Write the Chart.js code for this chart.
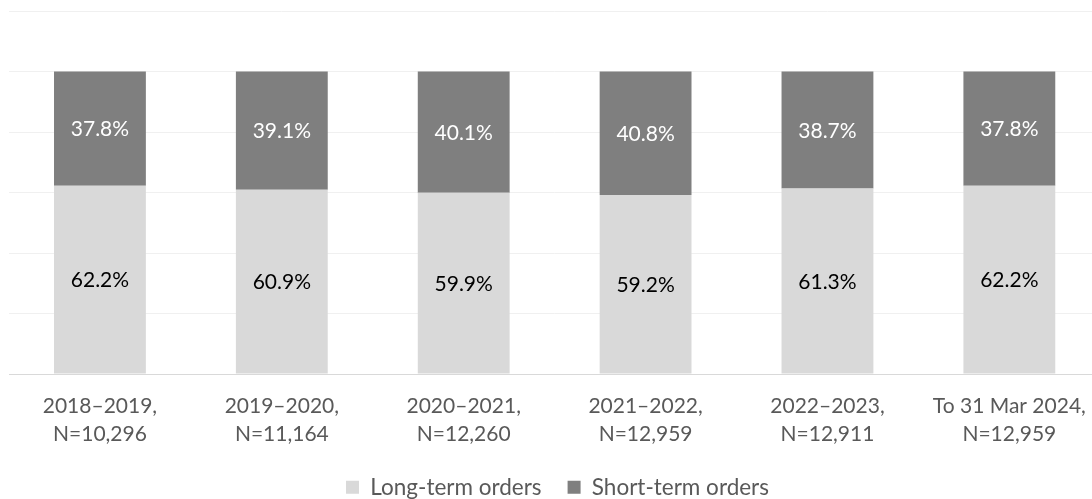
<!DOCTYPE html>
<html>
<head>
<meta charset="utf-8">
<script src="https://cdn.jsdelivr.net/npm/chart.js@4/dist/chart.umd.min.js"></script>
<style>
  html, body { margin: 0; padding: 0; background: #fff; overflow: hidden; }
  #wrap { position: relative; margin-left: -12px; width: 1116px; height: 499px; }
</style>
</head>
<body>
<div id="wrap"><canvas id="orderChart"></canvas></div>
<script>
const periods = [
    ['2018–2019,', 'N=10,296'],
    ['2019–2020,', 'N=11,164'],
    ['2020–2021,', 'N=12,260'],
    ['2021–2022,', 'N=12,959'],
    ['2022–2023,', 'N=12,911'],
    ['To 31 Mar 2024,', 'N=12,959']
];
const longTerm = [62.2, 60.9, 59.9, 59.2, 61.3, 62.2];
const shortTerm = [37.8, 39.1, 40.1, 40.8, 38.7, 37.8];

const FONT = 'Lato, "Open Sans", sans-serif';

// draws the percentage in the middle of every bar segment
const barLabels = {
    id: 'barLabels',
    afterDatasetsDraw(chart) {
        const c = chart.ctx;
        c.save();
        c.font = '21px ' + FONT;
        c.textAlign = 'center';
        c.textBaseline = 'middle';
        chart.data.datasets.forEach((ds, i) => {
            const meta = chart.getDatasetMeta(i);
            c.fillStyle = i === 1 ? '#ffffff' : '#000000';
            meta.data.forEach((bar, j) => {
                const y = (bar.y + bar.base) / 2;
                c.fillText(ds.data[j].toFixed(1) + '%', bar.x, y + 1);
            });
        });
        c.restore();
    }
};

// legend sits a bit lower and to the right, like the original
const legendPlace = {
    id: 'legendPlace',
    beforeInit(chart) {
        const fit = chart.legend.fit;
        chart.legend.fit = function () {
            fit.call(this);
            this.height = 49;
        };
    },
    afterLayout(chart) {
        chart.legend.left += 2;
        chart.legend.right += 2;
    }
};

new Chart(document.getElementById('orderChart'), {
    type: 'bar',
    data: {
        labels: periods,
        datasets: [
            {label: 'Long-term orders', data: longTerm, backgroundColor: '#d9d9d9'},
            {label: 'Short-term orders', data: shortTerm, backgroundColor: '#7f7f7f'}
        ]
    },
    options: {
        responsive: true,
        maintainAspectRatio: false,
        animation: false,
        layout: {padding: {left: 21, right: 2, top: 11, bottom: 0}},
        datasets: {bar: {categoryPercentage: 1, barPercentage: 0.505}},
        plugins: {
            legend: {
                position: 'bottom',
                labels: {
                    font: {family: FONT, size: 22.5},
                    color: '#595959',
                    boxWidth: 13,
                    boxHeight: 13,
                    padding: 26
                }
            },
            tooltip: {enabled: false}
        },
        scales: {
            x: {
                stacked: true,
                grid: {display: false, drawTicks: false},
                border: {color: '#d9d9d9', width: 1},
                ticks: {font: {family: FONT, size: 21, lineHeight: 1.35}, color: '#595959', padding: 18, maxRotation: 0},
                afterFit(scale) { scale.height = 76; }
            },
            y: {
                stacked: true,
                min: 0,
                max: 120,
                ticks: {display: false, stepSize: 20},
                grid: {color: '#f0f0f0', drawTicks: false},
                border: {display: false}
            }
        }
    },
    plugins: [barLabels, legendPlace]
});
</script>
</body>
</html>
